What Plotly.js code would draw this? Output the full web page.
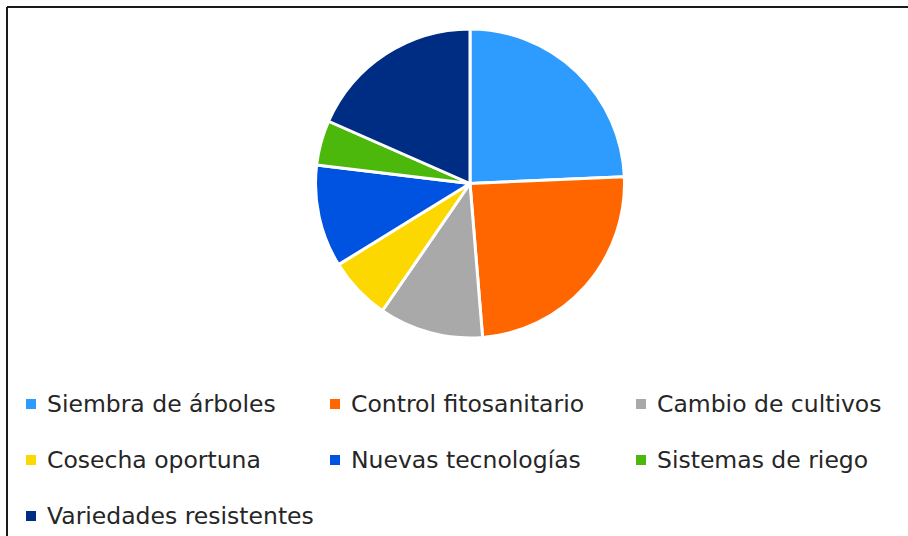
<!DOCTYPE html>
<html>
<head>
<meta charset="utf-8">
<script src="https://cdn.plot.ly/plotly-3.0.1.min.js"></script>
<style>html,body{margin:0;padding:0;background:#fff;} #chart{width:908px;height:536px;}</style>
</head>
<body>
<div id="chart"></div>
<script>
const labels = ["Siembra de árboles", "Control fitosanitario", "Cambio de cultivos", "Cosecha oportuna", "Nuevas tecnologías", "Sistemas de riego", "Variedades resistentes"];
const values = [24.3, 24.4, 10.9, 6.6, 10.7, 4.7, 18.4];
const colors = ["#2E9BFF", "#FF6600", "#A9A9A9", "#FCD800", "#0052E0", "#4DB80C", "#002D84"];

const W = 908, H = 536;
const cx = 470, cy = 183.5, r = 154.5;
const px = x => x / W;
const py = y => 1 - y / H;

const legendCols = [26, 330, 636];
const legendRows = [404, 460, 516];

const shapes = [
  {type: "line", xref: "paper", yref: "paper", x0: px(7), x1: px(908), y0: py(7), y1: py(7), line: {color: "#1a1a1a", width: 2}},
  {type: "line", xref: "paper", yref: "paper", x0: px(7), x1: px(7), y0: py(7), y1: py(536), line: {color: "#1a1a1a", width: 2}}
];
const annotations = [];
labels.forEach((lab, i) => {
  const col = legendCols[i % 3], row = legendRows[Math.floor(i / 3)];
  shapes.push({type: "rect", xref: "paper", yref: "paper", x0: px(col), x1: px(col + 10), y0: py(row - 5), y1: py(row + 5), fillcolor: colors[i], line: {width: 0}});
  annotations.push({xref: "paper", yref: "paper", x: px(col + 19), y: py(row), xanchor: "left", yanchor: "middle", showarrow: false, text: lab, font: {family: "'DejaVu Sans', sans-serif", size: 23.5, color: "#262626"}});
});

const data = [{
  type: "pie",
  labels: labels,
  values: values,
  sort: false,
  direction: "clockwise",
  rotation: 0,
  textinfo: "none",
  hoverinfo: "label+value",
  marker: {colors: colors, line: {color: "#ffffff", width: 3}},
  domain: {x: [px(cx - r), px(cx + r)], y: [py(cy + r), py(cy - r)]},
  showlegend: false
}];

const layout = {
  width: W, height: H,
  margin: {l: 0, r: 0, t: 0, b: 0},
  paper_bgcolor: "#ffffff",
  showlegend: false,
  shapes: shapes,
  annotations: annotations
};
Plotly.newPlot("chart", data, layout, {displayModeBar: false, staticPlot: true});
</script>
</body>
</html>
